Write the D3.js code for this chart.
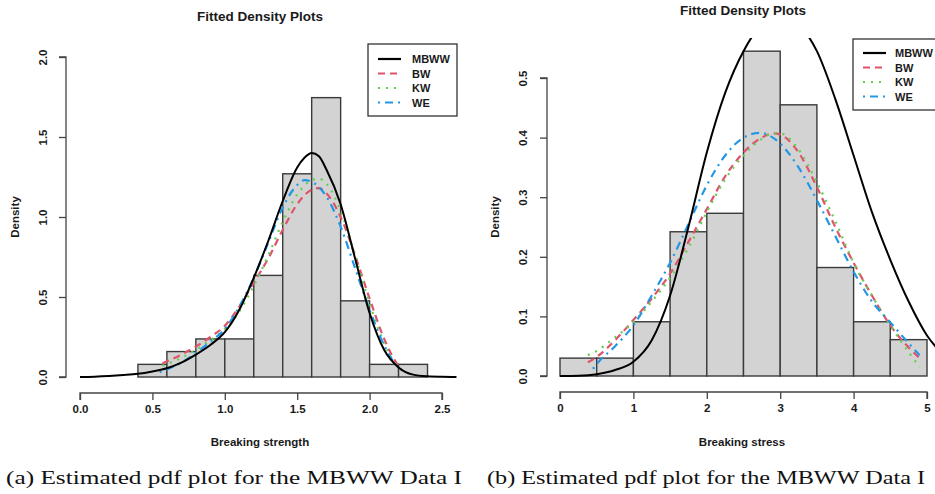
<!DOCTYPE html>
<html><head><meta charset="utf-8">
<script src="https://cdn.jsdelivr.net/npm/d3@7"></script>
<style>body{margin:0;background:#fff}svg{display:block}</style>
</head><body>
<script>
// ---------- DATA ----------
const chartTitle = "Fitted Density Plots";
const seriesNames = ["MBWW", "BW", "KW", "WE"];
const seriesColors = ["#000000", "#DF536B", "#61D04F", "#2297E6"];
const seriesDash = [null, "7,5", "2,6", "2,5,8,5"];

// Panel (a)
const aXLabel = "Breaking strength";
const aCaption = "(a) Estimated pdf plot for the MBWW Data I";
const aXTicks = [0.0, 0.5, 1.0, 1.5, 2.0, 2.5];
const aYTicks = [0.0, 0.5, 1.0, 1.5, 2.0];
const aBinEdges = [0.4, 0.6, 0.8, 1.0, 1.2, 1.4, 1.6, 1.8, 2.0, 2.2, 2.4];
const aBinDensity = [0.079, 0.159, 0.238, 0.238, 0.635, 1.270, 1.746, 0.476, 0.079, 0.079];
const aMbwwX = [0, 0.1, 0.2, 0.3, 0.4, 0.5, 0.6, 0.7, 0.8, 0.9, 1.0, 1.1, 1.2, 1.3, 1.4, 1.5, 1.55, 1.6, 1.65, 1.7, 1.8, 1.9, 2.0, 2.1, 2.2, 2.3, 2.4, 2.5, 2.6];
const aMbwwY = [0, 0.002, 0.006, 0.012, 0.02, 0.035, 0.055, 0.09, 0.14, 0.2, 0.28, 0.42, 0.62, 0.85, 1.1, 1.31, 1.37, 1.40, 1.38, 1.30, 1.08, 0.74, 0.40, 0.17, 0.06, 0.015, 0.004, 0.001, 0];
const aFitX = [0.57, 0.7, 0.8, 0.9, 1.0, 1.1, 1.2, 1.3, 1.4, 1.5, 1.6, 1.65, 1.7, 1.8, 1.9, 2.0, 2.1, 2.2, 2.22];
const aBwY = [0.085, 0.14, 0.19, 0.25, 0.32, 0.44, 0.59, 0.74, 0.92, 1.08, 1.17, 1.18, 1.15, 1.0, 0.76, 0.49, 0.24, 0.07, 0.05];
const aKwY = [0.07, 0.12, 0.17, 0.23, 0.30, 0.41, 0.57, 0.76, 0.97, 1.14, 1.23, 1.24, 1.21, 1.04, 0.76, 0.46, 0.21, 0.06, 0.045];
const aWeX = [0.55, 0.7, 0.8, 0.9, 1.0, 1.1, 1.2, 1.3, 1.4, 1.5, 1.55, 1.6, 1.7, 1.8, 1.9, 2.0, 2.1, 2.2, 2.22];
const aWeY = [0.03, 0.09, 0.15, 0.22, 0.30, 0.44, 0.62, 0.84, 1.06, 1.20, 1.23, 1.22, 1.13, 0.94, 0.68, 0.42, 0.20, 0.06, 0.05];

// Panel (b)
const bXLabel = "Breaking stress";
const bCaption = "(b) Estimated pdf plot for the MBWW Data I";
const bXTicks = [0, 1, 2, 3, 4, 5];
const bYTicks = [0.0, 0.1, 0.2, 0.3, 0.4, 0.5];
const bBinEdges = [0, 0.5, 1, 1.5, 2, 2.5, 3, 3.5, 4, 4.5, 5];
const bBinDensity = [0.030, 0.030, 0.091, 0.242, 0.273, 0.545, 0.455, 0.182, 0.091, 0.061];
const bMbwwX = [0, 0.25, 0.5, 0.75, 1.0, 1.25, 1.5, 1.75, 2.0, 2.25, 2.5, 2.75, 3.0, 3.25, 3.5, 3.75, 4.0, 4.25, 4.5, 4.75, 5.0, 5.25];
const bMbwwY = [0, 0.0005, 0.003, 0.01, 0.024, 0.06, 0.135, 0.25, 0.375, 0.475, 0.545, 0.59, 0.605, 0.59, 0.545, 0.465, 0.37, 0.275, 0.195, 0.125, 0.068, 0.032];
const bFitX = [0.38, 0.5, 0.75, 1.0, 1.25, 1.5, 1.75, 2.0, 2.25, 2.5, 2.75, 2.9, 3.0, 3.25, 3.5, 3.75, 4.0, 4.25, 4.5, 4.75, 4.9];
const bBwY = [0.023, 0.032, 0.06, 0.094, 0.13, 0.172, 0.225, 0.28, 0.335, 0.375, 0.40, 0.407, 0.405, 0.375, 0.317, 0.25, 0.19, 0.135, 0.085, 0.048, 0.03];
const bKwY = [0.035, 0.042, 0.065, 0.09, 0.125, 0.165, 0.215, 0.275, 0.33, 0.37, 0.398, 0.407, 0.407, 0.38, 0.325, 0.26, 0.19, 0.135, 0.085, 0.04, 0.015];
const bWeX = [0.45, 0.5, 0.75, 1.0, 1.25, 1.5, 1.75, 2.0, 2.25, 2.5, 2.72, 3.0, 3.25, 3.5, 3.75, 4.0, 4.25, 4.5, 4.75, 4.9];
const bWeY = [0.012, 0.02, 0.05, 0.085, 0.135, 0.19, 0.255, 0.32, 0.37, 0.40, 0.408, 0.39, 0.35, 0.295, 0.235, 0.175, 0.125, 0.09, 0.055, 0.035];

// ---------- DRAW ----------
const W = 935, H = 494;
const svg = d3.select("body").append("svg").attr("width", W).attr("height", H);
const FONT = "'Liberation Sans', Arial, sans-serif";
const INK = "#1a1a1a";

function panel(o) {
  const g = svg.append("g");
  const x = d3.scaleLinear().domain(o.xDom).range(o.xRange);
  const y = d3.scaleLinear().domain(o.yDom).range(o.yRange);
  const clipId = "clip" + o.id;
  svg.append("defs").append("clipPath").attr("id", clipId)
    .append("rect").attr("x", o.clip[0]).attr("y", o.clip[1])
    .attr("width", o.clip[2] - o.clip[0]).attr("height", o.clip[3] - o.clip[1]);

  // histogram
  const bins = o.density.map((d, i) => ({x0: o.edges[i], x1: o.edges[i + 1], d}));
  g.append("g").selectAll("rect").data(bins).join("rect")
    .attr("x", b => x(b.x0)).attr("y", b => y(b.d))
    .attr("width", b => x(b.x1) - x(b.x0)).attr("height", b => y(0) - y(b.d))
    .attr("fill", "#d3d3d3").attr("stroke", "#3a3a3a").attr("stroke-width", 1.4);

  // curves
  const cg = g.append("g").attr("clip-path", `url(#${clipId})`);
  const line = d3.line().x(p => x(p[0])).y(p => y(p[1])).curve(d3.curveMonotoneX);
  const order = [1, 2, 3, 0];
  order.forEach(k => {
    const s = o.series[k];
    const pts = s.xs.map((v, i) => [v, s.ys[i]]);
    const p = cg.append("path").attr("d", line(pts)).attr("fill", "none")
      .attr("stroke", seriesColors[k]).attr("stroke-width", k === 0 ? 2 : 2.2);
    if (seriesDash[k]) p.attr("stroke-dasharray", seriesDash[k]);
  });

  // x axis (R style)
  const xa = g.append("g").attr("transform", `translate(0,${o.xAxisY})`)
    .call(d3.axisBottom(x).tickValues(o.xTicks).tickSize(7).tickPadding(5).tickFormat(o.xFmt));
  xa.select(".domain").attr("stroke", "#444").attr("stroke-width", 1.3)
    .attr("d", `M${x(o.xTicks[0])},7V0H${x(o.xTicks[o.xTicks.length - 1])}V7`);
  xa.selectAll(".tick line").attr("stroke", "#444").attr("stroke-width", 1.3);
  xa.selectAll(".tick text").attr("font-family", FONT).attr("font-size", 11.5)
    .attr("font-weight", "bold").attr("fill", INK);

  // y axis
  const ya = g.append("g").attr("transform", `translate(${o.yAxisX},0)`)
    .call(d3.axisLeft(y).tickValues(o.yTicks).tickSize(7).tickFormat(d3.format(".1f")));
  ya.select(".domain").attr("stroke", "#444").attr("stroke-width", 1.3)
    .attr("d", `M-7,${y(o.yTicks[0])}H0V${y(o.yTicks[o.yTicks.length - 1])}H-7`);
  ya.selectAll(".tick line").attr("stroke", "#444").attr("stroke-width", 1.3);
  ya.selectAll(".tick text").attr("font-family", FONT).attr("font-size", 11.5)
    .attr("font-weight", "bold").attr("fill", INK)
    .attr("text-anchor", "middle").attr("dy", null).attr("x", null)
    .attr("transform", `translate(${o.yLabX - o.yAxisX},0) rotate(-90)`)
    .attr("dominant-baseline", "central");

  // texts
  svg.append("text").attr("x", o.titleX).attr("y", o.titleY).attr("text-anchor", "middle")
    .attr("dominant-baseline", "central").attr("font-family", FONT).attr("font-weight", "bold")
    .attr("font-size", 13.5).attr("fill", INK).text(chartTitle);
  svg.append("text").attr("x", o.xLabX).attr("y", 442).attr("text-anchor", "middle")
    .attr("dominant-baseline", "central").attr("font-family", FONT).attr("font-weight", "bold")
    .attr("font-size", 11.5).attr("fill", INK).text(o.xLabel);
  svg.append("text").attr("transform", `translate(${o.densX},217) rotate(-90)`)
    .attr("text-anchor", "middle").attr("dominant-baseline", "central")
    .attr("font-family", FONT).attr("font-weight", "bold").attr("font-size", 11.5)
    .attr("fill", INK).text("Density");
  svg.append("text").attr("x", o.capX0).attr("y", 484)
    .attr("textLength", o.capX1 - o.capX0).attr("lengthAdjust", "spacingAndGlyphs")
    .attr("font-family", "'Liberation Serif', 'DejaVu Serif', serif").attr("font-size", 19)
    .attr("fill", "#111").text(o.caption);

  // legend
  const L = o.legend;
  const lg = svg.append("g");
  lg.append("rect").attr("x", L.x0).attr("y", L.y0).attr("width", L.w).attr("height", L.h)
    .attr("fill", "#fff").attr("stroke", "#333").attr("stroke-width", 1.3);
  seriesNames.forEach((nm, k) => {
    const yy = L.firstY + k * L.step;
    const ln = lg.append("line").attr("x1", L.lx0).attr("x2", L.lx1).attr("y1", yy).attr("y2", yy)
      .attr("stroke", seriesColors[k]).attr("stroke-width", 2.2);
    if (seriesDash[k]) ln.attr("stroke-dasharray", seriesDash[k]);
    lg.append("text").attr("x", L.tx).attr("y", yy).attr("dominant-baseline", "central")
      .attr("font-family", FONT).attr("font-weight", "bold").attr("font-size", 11)
      .attr("fill", INK).text(nm);
  });
}

panel({
  id: "a", xDom: [0, 2.5], xRange: [80, 442], yDom: [0, 2], yRange: [377, 57],
  clip: [65, 44, 471, 390], edges: aBinEdges, density: aBinDensity,
  series: [
    {xs: aMbwwX, ys: aMbwwY}, {xs: aFitX, ys: aBwY}, {xs: aFitX, ys: aKwY}, {xs: aWeX, ys: aWeY}
  ],
  xTicks: aXTicks, yTicks: aYTicks, xFmt: d3.format(".1f"), xAxisY: 393, yAxisX: 66, yLabX: 43,
  titleX: 260, titleY: 16, xLabX: 260, xLabel: aXLabel, densX: 15,
  caption: aCaption, capX0: 6, capX1: 462,
  legend: {x0: 368, y0: 44, w: 89, h: 72, firstY: 59, step: 14.5, lx0: 378, lx1: 401, tx: 412}
});

panel({
  id: "b", xDom: [0, 5], xRange: [560, 927], yDom: [0, 0.5], yRange: [376, 78],
  clip: [545, 38, 942, 390], edges: bBinEdges, density: bBinDensity,
  series: [
    {xs: bMbwwX, ys: bMbwwY}, {xs: bFitX, ys: bBwY}, {xs: bFitX, ys: bKwY}, {xs: bWeX, ys: bWeY}
  ],
  xTicks: bXTicks, yTicks: bYTicks, xFmt: d3.format("d"), xAxisY: 392, yAxisX: 547, yLabX: 523,
  titleX: 743, titleY: 10, xLabX: 742, xLabel: bXLabel, densX: 495,
  caption: bCaption, capX0: 487, capX1: 925,
  legend: {x0: 853, y0: 39, w: 89, h: 71, firstY: 53, step: 14.5, lx0: 863, lx1: 886, tx: 895}
});
</script>
</body></html>
